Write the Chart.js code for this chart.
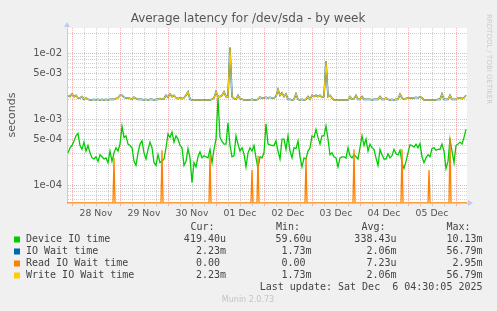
<!DOCTYPE html>
<html>
<head>
<meta charset="utf-8">
<title>Average latency for /dev/sda - by week</title>
<script src="https://cdn.jsdelivr.net/npm/chart.js@4.4.1/dist/chart.umd.min.js"></script>
<style>
    html, body { margin: 0; padding: 0; background: #f0f0f0; }
    canvas { display: block; }
</style>
</head>
<body>
<canvas id="latencyChart" width="497" height="311"></canvas>
<script>
//################### Data (hours counted from 28 Nov 00:00) ###################
const startHour = -2;   // first sample, one sample per hour

// Device IO time, microseconds
const deviceIoUs = [
    310, 370,
    400, 470, 560, 610, 400, 350, 450, 330, 400, 310, 260, 250, 270, 230, 290, 270, 250, 260, 220, 330, 230, 310, 370, 330,
    420, 780, 530, 560, 420, 400, 370, 230, 200, 310, 420, 470, 310, 250, 350, 450, 370, 220, 200, 290, 220, 230, 250, 370,
    600, 530, 640, 450, 560, 500, 400, 370, 200, 230, 360, 260, 110, 220, 190, 270, 320, 260, 280, 270, 260, 350, 220, 350,
    500, 2100, 530, 460, 420, 420, 880, 400, 270, 280, 560, 420, 330, 370, 300, 190, 310, 370, 330, 400, 260, 180, 270, 260,
    310, 850, 420, 410, 400, 400, 470, 330, 250, 500, 500, 350, 560, 330, 260, 370, 360, 470, 270, 190, 260, 250, 330, 370,
    560, 530, 700, 530, 420, 560, 560, 790, 500, 290, 310, 270, 260, 190, 260, 270, 270, 260, 370, 280, 260, 290, 270, 250,
    370, 560, 400, 500, 330, 420, 370, 350, 260, 200, 350, 290, 250, 250, 300, 260, 280, 350, 300, 290, 340, 220, 180, 230,
    310, 410, 400, 380, 420, 370, 430, 270, 220, 260, 290, 270, 360, 370, 340, 350, 350, 420, 330, 180, 230, 500, 330, 220,
    400, 420, 450, 420, 530, 700
];

// Write IO Wait time, milliseconds
const writeWaitMs = [
    2.3, 2.2,
    2.4, 2.2, 2.3, 2.1, 2.1, 2.2, 2.0, 2.1, 2.0, 1.95, 1.95, 2.0, 1.95, 2.0, 1.95, 2.0, 1.95, 2.0, 1.95, 2.0, 2.0, 2.0, 2.05, 2.1,
    2.3, 2.3, 2.15, 2.1, 2.1, 2.05, 2.0, 2.15, 2.05, 2.0, 2.0, 2.0, 1.95, 2.0, 1.95, 2.0, 2.0, 1.95, 2.0, 2.0, 2.05, 2.0, 2.05, 2.3,
    2.15, 2.4, 2.2, 2.3, 2.1, 2.05, 2.1, 2.05, 2.1, 2.3, 2.6, 2.0, 1.95, 1.95, 1.95, 1.95, 1.95, 1.95, 1.95, 1.95, 1.95, 1.95, 2.0, 2.1,
    2.6, 2.2, 2.2, 2.3, 2.6, 2.2, 2.2, 12.2, 2.2, 2.05, 2.0, 2.3, 2.05, 2.0, 1.95, 1.95, 1.95, 1.95, 2.0, 1.95, 1.95, 2.0, 2.15, 2.1,
    2.1, 2.15, 2.1, 2.15, 2.1, 2.1, 2.2, 2.8, 2.3, 2.5, 2.2, 2.4, 2.0, 2.0, 1.95, 2.0, 2.4, 2.0, 1.95, 2.0, 1.95, 2.0, 2.2, 2.0,
    2.3, 2.2, 2.3, 2.2, 2.3, 2.15, 2.2, 7.6, 2.2, 2.3, 2.1, 1.95, 1.95, 1.95, 1.95, 1.95, 1.95, 1.95, 1.95, 2.2, 2.0, 2.05, 2.3, 2.0,
    2.0, 2.2, 2.0, 2.0, 2.0, 2.0, 1.95, 2.0, 2.0, 2.0, 2.2, 2.0, 2.0, 2.1, 2.0, 1.95, 2.0, 1.95, 2.0, 2.0, 2.4, 2.1, 2.0, 2.05,
    2.1, 2.1, 2.1, 2.1, 2.15, 2.1, 2.2, 2.1, 1.95, 1.95, 1.95, 1.95, 1.95, 1.95, 1.95, 2.0, 2.0, 2.4, 2.0, 2.0, 2.0, 2.3, 2.0, 2.0,
    2.0, 2.1, 2.1, 2.05, 2.1, 2.3
];

// IO Wait time is identical to the write wait in this graph
const ioWaitMs = writeWaitMs.slice();

// Read IO Wait time: zero except for these single samples (microseconds)
const readSpikeHours = [21, 45, 69, 90, 93, 117, 141, 165, 178.5, 189];
const readSpikeUs = [260, 340, 290, 170, 280, 260, 350, 350, 170, 520];

const dayLabels = ['28 Nov', '29 Nov', '30 Nov', '01 Dec', '02 Dec', '03 Dec', '04 Dec', '05 Dec'];

const seriesNames = ['Device IO time', 'IO Wait time', 'Read IO Wait time', 'Write IO Wait time'];
const seriesColors = ['#00cc00', '#0066b3', '#ff8000', '#ffcc00'];
const curValues = ['419.40u', '2.23m', '0.00 ', '2.23m'];
const minValues = ['59.60u', '1.73m', '0.00 ', '1.73m'];
const avgValues = ['338.43u', '2.06m', '7.23u', '2.06m'];
const maxValues = ['10.13m', '56.79m', '2.95m', '56.79m'];

const X_MIN = -2.5;
const X_MAX = 197.5;
const Y_MIN = 5.4e-5;
const Y_MAX = 2.4e-2;

const MAJOR_GRID = 'rgba(220, 120, 120, 0.55)';
const MINOR_GRID = 'rgba(170, 170, 170, 0.55)';
const AXIS_COLOR = '#c4caee';

//################### Build the point lists ###################
const hourly = (values, scale) => values.map((v, i) => ({ x: startHour + i, y: v * scale }));

const readPoints = [{ x: X_MIN, y: 0 }];
readSpikeHours.forEach((h, i) => {
    readPoints.push({ x: h - 0.5, y: 0 }, { x: h, y: readSpikeUs[i] / 1e6 }, { x: h + 0.5, y: 0 });
});
readPoints.push({ x: X_MAX, y: 0 });
// a log axis cannot show zero, munin puts it on the bottom edge
const readDisplay = readPoints.map(p => ({ x: p.x, y: Math.max(p.y, Y_MIN) }));

function mantissa(v) {
    const e = Math.floor(Math.log10(v) + 1e-9);
    return { m: Math.round(v / Math.pow(10, e)), e: e };
}

//################### Munin style decorations ###################
const muninFrame = {
    id: 'muninFrame',
    beforeDraw(chart) {
        const { ctx, chartArea } = chart;
        ctx.save();
        ctx.fillStyle = '#f0f0f0';
        ctx.fillRect(0, 0, chart.width, chart.height);
        ctx.fillStyle = '#ffffff';
        ctx.fillRect(chartArea.left, chartArea.top, chartArea.right - chartArea.left, chartArea.bottom - chartArea.top);
        ctx.restore();
    },
    afterDraw(chart) {
        const { ctx, chartArea } = chart;
        ctx.save();

        // title
        ctx.fillStyle = '#555';
        ctx.font = '12px "DejaVu Sans"';
        ctx.textAlign = 'center';
        ctx.textBaseline = 'middle';
        ctx.fillText('Average latency for /dev/sda - by week', 248, 19);

        // vertical axis title
        ctx.save();
        ctx.translate(12, 115);
        ctx.rotate(-Math.PI / 2);
        ctx.font = '11px "DejaVu Sans"';
        ctx.fillText('seconds', 0, 0);
        ctx.restore();

        // rrdtool credit on the right
        ctx.save();
        ctx.translate(488.5, 14);
        ctx.rotate(Math.PI / 2);
        ctx.font = '7px "DejaVu Sans"';
        ctx.fillStyle = '#cccccc';
        ctx.textAlign = 'left';
        ctx.fillText('RRDTOOL / TOBI OETIKER', 0, 0);
        ctx.restore();

        // axis arrows
        ctx.fillStyle = AXIS_COLOR;
        ctx.beginPath();
        ctx.moveTo(chartArea.left - 3, chartArea.top - 1);
        ctx.lineTo(chartArea.left + 3, chartArea.top - 1);
        ctx.lineTo(chartArea.left, chartArea.top - 6);
        ctx.closePath();
        ctx.fill();
        ctx.beginPath();
        ctx.moveTo(chartArea.right + 1, chartArea.bottom - 3);
        ctx.lineTo(chartArea.right + 1, chartArea.bottom + 3);
        ctx.lineTo(chartArea.right + 6, chartArea.bottom);
        ctx.closePath();
        ctx.fill();

        // legend table
        ctx.font = '10px "DejaVu Sans Mono"';
        ctx.fillStyle = '#444';
        ctx.textAlign = 'left';
        const headX = [190.5, 276, 361.5, 446.5];
        ['Cur:', 'Min:', 'Avg:', 'Max:'].forEach((h, i) => ctx.fillText(h, headX[i], 227.5));

        const colX = [226, 311.5, 396.5, 482.5];
        seriesNames.forEach((name, i) => {
            const y = 239.5 + i * 12;
            ctx.fillStyle = seriesColors[i];
            ctx.fillRect(14, y - 3, 6, 6);
            ctx.fillStyle = '#444';
            ctx.textAlign = 'left';
            ctx.fillText(name, 26, y);
            ctx.textAlign = 'right';
            [curValues, minValues, avgValues, maxValues].forEach((col, c) => ctx.fillText(col[i], colX[c], y));
        });
        ctx.textAlign = 'right';
        ctx.fillText('Last update: Sat Dec  6 04:30:05 2025', 482.5, 287.5);

        ctx.font = '8px "DejaVu Sans"';
        ctx.fillStyle = '#c4c4c4';
        ctx.textAlign = 'center';
        ctx.fillText('Munin 2.0.73', 248, 300);
        ctx.restore();
    }
};

//################### Plot the latency chart ###################
function createLatencyChart() {
    const latencyCtx = document.getElementById('latencyChart').getContext('2d');
    new Chart(latencyCtx, {
        type: 'line',
        data: {
            datasets: [{
                label: seriesNames[0],
                data: hourly(deviceIoUs, 1e-6),
                borderColor: seriesColors[0],
                borderWidth: 1.3,
                order: 3,
            }, {
                label: seriesNames[1],
                data: hourly(ioWaitMs, 1e-3),
                borderColor: seriesColors[1],
                borderWidth: 1.6,
                order: 2,
            }, {
                label: seriesNames[2],
                data: readDisplay,
                borderColor: seriesColors[2],
                borderWidth: 1.3,
                order: 1,
            }, {
                label: seriesNames[3],
                data: hourly(writeWaitMs, 1e-3),
                borderColor: seriesColors[3],
                borderWidth: 1.1,
                order: 0,
            }]
        },
        options: {
            responsive: false,
            animation: false,
            devicePixelRatio: 1,
            layout: {
                padding: { top: 28, right: 30, left: 0, bottom: 0 }
            },
            elements: {
                point: { radius: 0 },
                line: { tension: 0, fill: false }
            },
            plugins: {
                legend: { display: false },
                title: { display: false },
                tooltip: { enabled: false }
            },
            scales: {
                x: {
                    type: 'linear',
                    min: X_MIN,
                    max: X_MAX,
                    afterBuildTicks(scale) {
                        const ticks = [];
                        for (let h = 0; h <= 192; h += 6) ticks.push({ value: h });
                        scale.ticks = ticks;
                    },
                    afterFit(scale) { scale.height = 108; },
                    grid: {
                        color: ctx => (ctx.tick && ctx.tick.value % 24 === 0) ? MAJOR_GRID : MINOR_GRID,
                        tickLength: 3,
                        lineWidth: 1
                    },
                    border: { color: AXIS_COLOR, dash: [1, 1] },
                    ticks: {
                        autoSkip: false,
                        maxRotation: 0,
                        padding: 2,
                        color: '#555',
                        font: { family: 'DejaVu Sans', size: 9.3 },
                        callback: v => (v % 24 === 12) ? dayLabels[(v - 12) / 24] : ''
                    }
                },
                y: {
                    type: 'logarithmic',
                    min: Y_MIN,
                    max: Y_MAX,
                    afterBuildTicks(scale) {
                        const ticks = [];
                        for (let e = -5; e <= -2; e++) {
                            for (let m = 1; m <= 9; m++) {
                                const v = m * Math.pow(10, e);
                                if (v >= Y_MIN && v <= Y_MAX) ticks.push({ value: v });
                            }
                        }
                        scale.ticks = ticks;
                    },
                    afterFit(scale) { scale.width = 67; },
                    grid: {
                        color: ctx => {
                            if (!ctx.tick) return MINOR_GRID;
                            const m = mantissa(ctx.tick.value).m;
                            return (m === 1 || m === 5) ? MAJOR_GRID : MINOR_GRID;
                        },
                        drawTicks: false,
                        lineWidth: 1
                    },
                    border: { color: AXIS_COLOR, dash: [1, 1] },
                    ticks: {
                        autoSkip: false,
                        padding: 5,
                        color: '#555',
                        font: { family: 'DejaVu Sans', size: 10 },
                        callback: v => {
                            const t = mantissa(v);
                            if (t.m !== 1 && t.m !== 5) return '';
                            return t.m + 'e-' + String(-t.e).padStart(2, '0');
                        }
                    }
                }
            }
        },
        plugins: [muninFrame]
    });
}

window.onload = () => createLatencyChart();
</script>
</body>
</html>
